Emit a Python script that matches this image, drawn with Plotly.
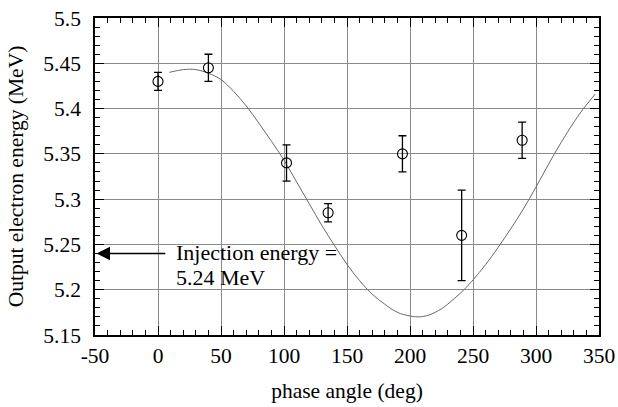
import plotly.graph_objects as go

# Measured data points
phase_deg = [0, 40, 102, 135, 194, 241, 289]
energy_mev = [5.43, 5.445, 5.34, 5.285, 5.35, 5.26, 5.365]
energy_err = [0.01, 0.015, 0.02, 0.01, 0.02, 0.05, 0.02]

# Simulated curve
curve_phase = [9, 20, 30, 40, 50, 60, 70, 80, 90, 100, 110, 120, 130, 140, 150,
               160, 170, 180, 190, 200, 207, 215, 225, 235, 245, 255, 265, 275,
               285, 295, 305, 315, 325, 335, 347]
curve_energy = [5.440, 5.443, 5.443, 5.439, 5.432, 5.419, 5.403, 5.384, 5.364,
                5.343, 5.319, 5.295, 5.271, 5.249, 5.228, 5.210, 5.195, 5.184,
                5.175, 5.171, 5.170, 5.172, 5.179, 5.190, 5.203, 5.219, 5.237,
                5.257, 5.278, 5.301, 5.326, 5.351, 5.374, 5.395, 5.416]

x_ticks = [-50, 0, 50, 100, 150, 200, 250, 300, 350]
x_ticktext = ["-50", "0", "50", "100", "150", "200", "250", "300", "350"]
y_ticks = [5.15, 5.2, 5.25, 5.3, 5.35, 5.4, 5.45, 5.5]
y_ticktext = ["5.15", "5.2", "5.25", "5.3", "5.35", "5.4", "5.45", "5.5"]

injection_energy = 5.24

FONT = "Liberation Serif, Times New Roman, serif"
FS = 21.5

fig = go.Figure()

fig.add_trace(go.Scatter(
    x=curve_phase, y=curve_energy, mode="lines", line_shape="spline",
    line=dict(color="#6a6a6a", width=1), hoverinfo="skip", showlegend=False,
))

fig.add_trace(go.Scatter(
    x=phase_deg, y=energy_mev, mode="markers",
    marker=dict(symbol="circle-open", size=10, color="black", line=dict(width=1.1, color="black")),
    error_y=dict(type="data", array=energy_err, visible=True, color="black", thickness=1.3, width=4),
    showlegend=False,
))

axis_common = dict(
    showline=True, linecolor="black", linewidth=1.5, mirror="allticks",
    ticks="inside", ticklen=9, tickwidth=1.3, tickcolor="black",
    showgrid=True, gridcolor="#8a8a8a", gridwidth=1,
    zeroline=False,
    tickfont=dict(family=FONT, size=FS, color="black"),
    automargin=False,
)

fig.update_xaxes(
    range=[-50, 350], tickvals=x_ticks, ticktext=x_ticktext,
    minor=dict(ticks="inside", ticklen=5, tickwidth=1.1, tickcolor="black", dtick=10, showgrid=False),
    title=dict(text="phase angle (deg)", font=dict(family=FONT, size=FS, color="black"), standoff=16),
    ticklabelstandoff=0,
    **axis_common,
)
fig.update_yaxes(
    range=[5.15, 5.5], tickvals=y_ticks, ticktext=y_ticktext,
    minor=dict(ticks="inside", ticklen=5, tickwidth=1.1, tickcolor="black", dtick=0.01, showgrid=False),
    title=dict(text="Output electron energy (MeV)", font=dict(family=FONT, size=FS, color="black"), standoff=14),
    ticklabelstandoff=8,
    **axis_common,
)

# Arrow pointing to injection energy
fig.add_annotation(
    x=-48.8, y=injection_energy, ax=7, ay=injection_energy,
    xref="x", yref="y", axref="x", ayref="y",
    text="", showarrow=True, arrowhead=2, arrowsize=1.8, arrowwidth=1.5, arrowcolor="black",
)
fig.add_annotation(
    x=12.5, y=5.241, xref="x", yref="y", xanchor="left", yanchor="middle",
    text="Injection energy =", showarrow=False,
    font=dict(family=FONT, size=22, color="black"),
)
fig.add_annotation(
    x=12.5, y=5.2134, xref="x", yref="y", xanchor="left", yanchor="middle",
    text="5.24 MeV", showarrow=False,
    font=dict(family=FONT, size=22, color="black"),
)

fig.update_layout(
    width=618, height=407,
    margin=dict(l=95, r=19, t=18, b=72),
    paper_bgcolor="white", plot_bgcolor="white",
    font=dict(family=FONT, size=FS, color="black"),
)

fig.write_html("out.html")
